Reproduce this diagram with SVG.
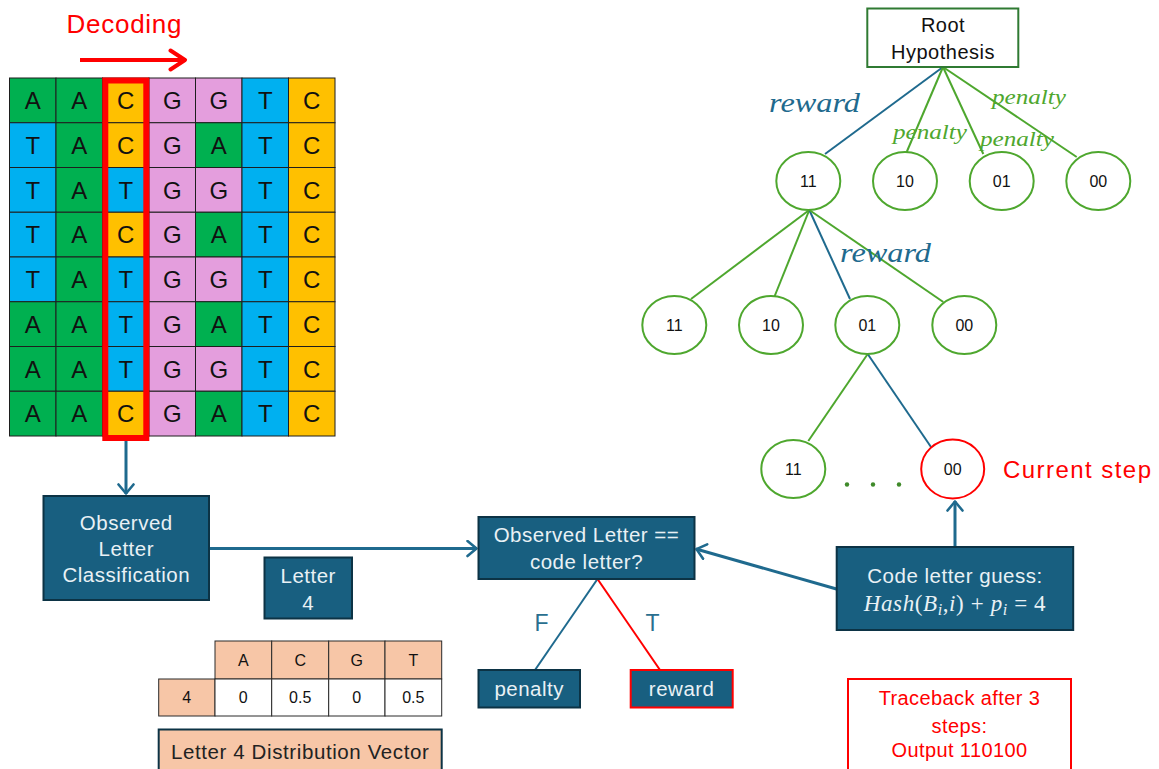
<svg xmlns="http://www.w3.org/2000/svg" width="1159" height="769" viewBox="0 0 1159 769">
  <style>
    .cell { stroke: #1e1e1e; stroke-width: 1; }
    .A { fill: #00B050; }
    .T { fill: #00B0F0; }
    .C { fill: #FFC000; }
    .G { fill: #E49EDD; }
    .base { font-family: "Liberation Sans", Arial, sans-serif; font-size: 24px; fill: #111; text-anchor: middle; }
    .box { fill: #185F80; stroke: #0C3345; stroke-width: 2; }
    .boxtxt { font-family: "Liberation Sans", Arial, sans-serif; font-size: 20.5px; letter-spacing: 0.5px; fill: #E9F1F5; text-anchor: middle; }
    .node { fill: #fff; stroke: #4EA72E; stroke-width: 2; }
    .nodetxt { font-family: "Liberation Sans", Arial, sans-serif; font-size: 16px; fill: #111; text-anchor: middle; }
    .roottxt { font-family: "Liberation Sans", Arial, sans-serif; font-size: 20px; letter-spacing: 0.5px; fill: #111; text-anchor: middle; }
    .g-edge { stroke: #4EA72E; stroke-width: 2; fill: none; }
    .t-edge { stroke: #1F6A8E; stroke-width: 2; fill: none; }
    .t-arrow { stroke: #1F6A8E; stroke-width: 3; fill: none; }
    .peach { fill: #F7C6A7; stroke: #2a2a2a; stroke-width: 1; }
    .white { fill: #fff; stroke: #2a2a2a; stroke-width: 1; }
    .tbl { font-family: "Liberation Sans", Arial, sans-serif; font-size: 16px; fill: #111; text-anchor: middle; }
    .math { font-family: "Liberation Serif", "DejaVu Serif", serif; font-style: italic; }
    .redtxt { font-family: "Liberation Sans", Arial, sans-serif; font-size: 20px; letter-spacing: 0.4px; fill: #FF0000; text-anchor: middle; }
  </style>
  <defs>
    <marker id="ah-teal" viewBox="0 0 12 18" refX="11" refY="9" markerWidth="12" markerHeight="18" markerUnits="userSpaceOnUse" orient="auto">
      <path d="M1.5,1.5 L10.5,9 L1.5,16.5" fill="none" stroke="#1F6A8E" stroke-width="2.6" stroke-linecap="round" stroke-linejoin="round"/>
    </marker>
    <marker id="ah-red" viewBox="0 0 20 24" refX="18" refY="12" markerWidth="20" markerHeight="24" markerUnits="userSpaceOnUse" orient="auto">
      <path d="M2.5,2.5 L17,12 L2.5,21.5" fill="none" stroke="#FF0000" stroke-width="4" stroke-linecap="round" stroke-linejoin="round"/>
    </marker>
  </defs>

  <rect width="1159" height="769" fill="#ffffff"/>

  <!-- decoding direction -->
  <g id="decoding">
    <text x="124" y="33" font-family="Liberation Sans, Arial, sans-serif" font-size="26" fill="#FF0000" text-anchor="middle" textLength="115">Decoding</text>
    <line x1="80" y1="60" x2="186" y2="60" stroke="#FF0000" stroke-width="4" marker-end="url(#ah-red)"/>
  </g>

  <!-- sequence grid: 8 reads x 7 positions -->
  <g id="grid">
    <!-- row 1 -->
    <rect class="cell A" x="9.5" y="78" width="46.5" height="44.75"/>
    <rect class="cell A" x="56" y="78" width="46.5" height="44.75"/>
    <rect class="cell C" x="102.5" y="78" width="46.5" height="44.75"/>
    <rect class="cell G" x="149" y="78" width="46.5" height="44.75"/>
    <rect class="cell G" x="195.5" y="78" width="46.5" height="44.75"/>
    <rect class="cell T" x="242" y="78" width="46.5" height="44.75"/>
    <rect class="cell C" x="288.5" y="78" width="46.5" height="44.75"/>
    <!-- row 2 -->
    <rect class="cell T" x="9.5" y="122.75" width="46.5" height="44.75"/>
    <rect class="cell A" x="56" y="122.75" width="46.5" height="44.75"/>
    <rect class="cell C" x="102.5" y="122.75" width="46.5" height="44.75"/>
    <rect class="cell G" x="149" y="122.75" width="46.5" height="44.75"/>
    <rect class="cell A" x="195.5" y="122.75" width="46.5" height="44.75"/>
    <rect class="cell T" x="242" y="122.75" width="46.5" height="44.75"/>
    <rect class="cell C" x="288.5" y="122.75" width="46.5" height="44.75"/>
    <!-- row 3 -->
    <rect class="cell T" x="9.5" y="167.5" width="46.5" height="44.75"/>
    <rect class="cell A" x="56" y="167.5" width="46.5" height="44.75"/>
    <rect class="cell T" x="102.5" y="167.5" width="46.5" height="44.75"/>
    <rect class="cell G" x="149" y="167.5" width="46.5" height="44.75"/>
    <rect class="cell G" x="195.5" y="167.5" width="46.5" height="44.75"/>
    <rect class="cell T" x="242" y="167.5" width="46.5" height="44.75"/>
    <rect class="cell C" x="288.5" y="167.5" width="46.5" height="44.75"/>
    <!-- row 4 -->
    <rect class="cell T" x="9.5" y="212.25" width="46.5" height="44.75"/>
    <rect class="cell A" x="56" y="212.25" width="46.5" height="44.75"/>
    <rect class="cell C" x="102.5" y="212.25" width="46.5" height="44.75"/>
    <rect class="cell G" x="149" y="212.25" width="46.5" height="44.75"/>
    <rect class="cell A" x="195.5" y="212.25" width="46.5" height="44.75"/>
    <rect class="cell T" x="242" y="212.25" width="46.5" height="44.75"/>
    <rect class="cell C" x="288.5" y="212.25" width="46.5" height="44.75"/>
    <!-- row 5 -->
    <rect class="cell T" x="9.5" y="257" width="46.5" height="44.75"/>
    <rect class="cell A" x="56" y="257" width="46.5" height="44.75"/>
    <rect class="cell T" x="102.5" y="257" width="46.5" height="44.75"/>
    <rect class="cell G" x="149" y="257" width="46.5" height="44.75"/>
    <rect class="cell G" x="195.5" y="257" width="46.5" height="44.75"/>
    <rect class="cell T" x="242" y="257" width="46.5" height="44.75"/>
    <rect class="cell C" x="288.5" y="257" width="46.5" height="44.75"/>
    <!-- row 6 -->
    <rect class="cell A" x="9.5" y="301.75" width="46.5" height="44.75"/>
    <rect class="cell A" x="56" y="301.75" width="46.5" height="44.75"/>
    <rect class="cell T" x="102.5" y="301.75" width="46.5" height="44.75"/>
    <rect class="cell G" x="149" y="301.75" width="46.5" height="44.75"/>
    <rect class="cell A" x="195.5" y="301.75" width="46.5" height="44.75"/>
    <rect class="cell T" x="242" y="301.75" width="46.5" height="44.75"/>
    <rect class="cell C" x="288.5" y="301.75" width="46.5" height="44.75"/>
    <!-- row 7 -->
    <rect class="cell A" x="9.5" y="346.5" width="46.5" height="44.75"/>
    <rect class="cell A" x="56" y="346.5" width="46.5" height="44.75"/>
    <rect class="cell T" x="102.5" y="346.5" width="46.5" height="44.75"/>
    <rect class="cell G" x="149" y="346.5" width="46.5" height="44.75"/>
    <rect class="cell G" x="195.5" y="346.5" width="46.5" height="44.75"/>
    <rect class="cell T" x="242" y="346.5" width="46.5" height="44.75"/>
    <rect class="cell C" x="288.5" y="346.5" width="46.5" height="44.75"/>
    <!-- row 8 -->
    <rect class="cell A" x="9.5" y="391.25" width="46.5" height="44.75"/>
    <rect class="cell A" x="56" y="391.25" width="46.5" height="44.75"/>
    <rect class="cell C" x="102.5" y="391.25" width="46.5" height="44.75"/>
    <rect class="cell G" x="149" y="391.25" width="46.5" height="44.75"/>
    <rect class="cell A" x="195.5" y="391.25" width="46.5" height="44.75"/>
    <rect class="cell T" x="242" y="391.25" width="46.5" height="44.75"/>
    <rect class="cell C" x="288.5" y="391.25" width="46.5" height="44.75"/>

    <g class="base">
      <text y="109"><tspan x="32.75">A</tspan><tspan x="79.25">A</tspan><tspan x="125.75">C</tspan><tspan x="172.25">G</tspan><tspan x="218.75">G</tspan><tspan x="265.25">T</tspan><tspan x="311.75">C</tspan></text>
      <text y="153.7"><tspan x="32.75">T</tspan><tspan x="79.25">A</tspan><tspan x="125.75">C</tspan><tspan x="172.25">G</tspan><tspan x="218.75">A</tspan><tspan x="265.25">T</tspan><tspan x="311.75">C</tspan></text>
      <text y="198.5"><tspan x="32.75">T</tspan><tspan x="79.25">A</tspan><tspan x="125.75">T</tspan><tspan x="172.25">G</tspan><tspan x="218.75">G</tspan><tspan x="265.25">T</tspan><tspan x="311.75">C</tspan></text>
      <text y="243.2"><tspan x="32.75">T</tspan><tspan x="79.25">A</tspan><tspan x="125.75">C</tspan><tspan x="172.25">G</tspan><tspan x="218.75">A</tspan><tspan x="265.25">T</tspan><tspan x="311.75">C</tspan></text>
      <text y="288"><tspan x="32.75">T</tspan><tspan x="79.25">A</tspan><tspan x="125.75">T</tspan><tspan x="172.25">G</tspan><tspan x="218.75">G</tspan><tspan x="265.25">T</tspan><tspan x="311.75">C</tspan></text>
      <text y="332.7"><tspan x="32.75">A</tspan><tspan x="79.25">A</tspan><tspan x="125.75">T</tspan><tspan x="172.25">G</tspan><tspan x="218.75">A</tspan><tspan x="265.25">T</tspan><tspan x="311.75">C</tspan></text>
      <text y="377.5"><tspan x="32.75">A</tspan><tspan x="79.25">A</tspan><tspan x="125.75">T</tspan><tspan x="172.25">G</tspan><tspan x="218.75">G</tspan><tspan x="265.25">T</tspan><tspan x="311.75">C</tspan></text>
      <text y="422.2"><tspan x="32.75">A</tspan><tspan x="79.25">A</tspan><tspan x="125.75">C</tspan><tspan x="172.25">G</tspan><tspan x="218.75">A</tspan><tspan x="265.25">T</tspan><tspan x="311.75">C</tspan></text>
    </g>
    <!-- current column highlight -->
    <rect x="105.3" y="80.5" width="41" height="357.5" fill="none" stroke="#FF0000" stroke-width="6"/>
  </g>

  <!-- connectors -->
  <g id="connectors">
    <line class="t-arrow" x1="126" y1="441" x2="126" y2="494" marker-end="url(#ah-teal)"/>
    <line class="t-arrow" x1="209" y1="548.5" x2="477" y2="548.5" marker-end="url(#ah-teal)"/>
    <line class="t-arrow" x1="836.5" y1="589" x2="696" y2="549" marker-end="url(#ah-teal)"/>
    <line class="t-arrow" x1="955" y1="546" x2="955" y2="501" marker-end="url(#ah-teal)"/>
    <line class="t-edge" x1="597.5" y1="579" x2="535" y2="670"/>
    <line x1="597.5" y1="579" x2="660" y2="670" stroke="#FF0000" stroke-width="2"/>

    <!-- tree edges: root -> level 1 -->
    <line class="t-edge" x1="943" y1="67" x2="825" y2="154"/>
    <line class="g-edge" x1="943" y1="67" x2="906.7" y2="152"/>
    <line class="g-edge" x1="943" y1="67" x2="983.3" y2="154"/>
    <line class="g-edge" x1="943" y1="67" x2="1076.7" y2="157"/>
    <!-- level 1 (11) -> level 2 -->
    <line class="g-edge" x1="809.3" y1="210" x2="691" y2="299"/>
    <line class="g-edge" x1="809.3" y1="210" x2="774.3" y2="297"/>
    <line class="t-edge" x1="809.3" y1="210" x2="850" y2="299"/>
    <line class="g-edge" x1="809.3" y1="210" x2="943.3" y2="302"/>
    <!-- level 2 (01) -> level 3 -->
    <line class="g-edge" x1="867.7" y1="354" x2="808.3" y2="441"/>
    <line class="t-edge" x1="867.7" y1="354" x2="931" y2="447"/>
  </g>

  <!-- edge labels -->
  <g id="edge-labels" class="math">
    <text x="769" y="112" font-size="28" fill="#1F6A8E" textLength="91" lengthAdjust="spacingAndGlyphs">reward</text>
    <text x="840" y="262" font-size="28" fill="#1F6A8E" textLength="91" lengthAdjust="spacingAndGlyphs">reward</text>
    <text x="992" y="104" font-size="21" fill="#4EA72E" textLength="74" lengthAdjust="spacingAndGlyphs">penalty</text>
    <text x="893" y="139" font-size="21" fill="#4EA72E" textLength="74" lengthAdjust="spacingAndGlyphs">penalty</text>
    <text x="980" y="146" font-size="21" fill="#4EA72E" textLength="74" lengthAdjust="spacingAndGlyphs">penalty</text>
    <text x="541.5" y="631" font-family="Liberation Sans, Arial, sans-serif" font-style="normal" font-size="23" fill="#2A6F8F" text-anchor="middle">F</text>
    <text x="652.5" y="631" font-family="Liberation Sans, Arial, sans-serif" font-style="normal" font-size="23" fill="#2A6F8F" text-anchor="middle">T</text>
  </g>

  <!-- hypothesis tree -->
  <g id="root">
    <rect x="867.3" y="8.5" width="151" height="58.5" fill="#fff" stroke="#2F7A32" stroke-width="2"/>
    <text class="roottxt" x="943" y="32">Root</text>
    <text class="roottxt" x="943" y="58.5">Hypothesis</text>
  </g>
  <g id="n1-11"><ellipse class="node" cx="808.3" cy="181" rx="32" ry="29"/><text class="nodetxt" x="808.3" y="186.8">11</text></g>
  <g id="n1-10"><ellipse class="node" cx="905" cy="181" rx="32" ry="29"/><text class="nodetxt" x="905" y="186.8">10</text></g>
  <g id="n1-01"><ellipse class="node" cx="1001.7" cy="181" rx="32" ry="29"/><text class="nodetxt" x="1001.7" y="186.8">01</text></g>
  <g id="n1-00"><ellipse class="node" cx="1098.3" cy="181" rx="32" ry="29"/><text class="nodetxt" x="1098.3" y="186.8">00</text></g>

  <g id="n2-11"><ellipse class="node" cx="674.3" cy="325" rx="32" ry="29"/><text class="nodetxt" x="674.3" y="330.8">11</text></g>
  <g id="n2-10"><ellipse class="node" cx="771" cy="325" rx="32" ry="29"/><text class="nodetxt" x="771" y="330.8">10</text></g>
  <g id="n2-01"><ellipse class="node" cx="867.3" cy="325" rx="32" ry="29"/><text class="nodetxt" x="867.3" y="330.8">01</text></g>
  <g id="n2-00"><ellipse class="node" cx="964.3" cy="325" rx="32" ry="29"/><text class="nodetxt" x="964.3" y="330.8">00</text></g>

  <g id="n3-11"><ellipse class="node" cx="793.3" cy="469" rx="32" ry="29"/><text class="nodetxt" x="793.3" y="474.8">11</text></g>
  <g id="ellipsis" fill="#3F8A2A">
    <circle cx="847" cy="484.5" r="2.2"/>
    <circle cx="873" cy="484.5" r="2.2"/>
    <circle cx="899" cy="484.5" r="2.2"/>
  </g>
  <g id="n3-00"><ellipse cx="952.7" cy="469" rx="31.5" ry="29.5" fill="#fff" stroke="#FF0000" stroke-width="2"/><text class="nodetxt" x="952.7" y="474.8">00</text></g>
  <g id="current-step">
    <text x="1003" y="477.5" font-family="Liberation Sans, Arial, sans-serif" font-size="24" fill="#FF0000" textLength="148">Current step</text>
  </g>

  <!-- process boxes -->
  <g id="observed-classification">
    <rect class="box" x="43.5" y="496" width="165.5" height="104"/>
    <text class="boxtxt" x="126.3" y="529.5">Observed</text>
    <text class="boxtxt" x="126.3" y="556">Letter</text>
    <text class="boxtxt" x="126.3" y="582">Classification</text>
  </g>
  <g id="letter-4">
    <rect class="box" x="264.5" y="557.5" width="87.5" height="61"/>
    <text class="boxtxt" x="308.2" y="583">Letter</text>
    <text class="boxtxt" x="308.2" y="609.5">4</text>
  </g>
  <g id="distribution-table">
    <rect class="peach" x="215" y="641" width="56.7" height="38"/>
    <rect class="peach" x="271.7" y="641" width="57" height="38"/>
    <rect class="peach" x="328.7" y="641" width="56.3" height="38"/>
    <rect class="peach" x="385" y="641" width="56.7" height="38"/>
    <rect class="peach" x="158.7" y="679" width="56.3" height="37"/>
    <rect class="white" x="215" y="679" width="56.7" height="37"/>
    <rect class="white" x="271.7" y="679" width="57" height="37"/>
    <rect class="white" x="328.7" y="679" width="56.3" height="37"/>
    <rect class="white" x="385" y="679" width="56.7" height="37"/>
    <text class="tbl" x="243.3" y="666">A</text>
    <text class="tbl" x="300.2" y="666">C</text>
    <text class="tbl" x="356.8" y="666">G</text>
    <text class="tbl" x="413.3" y="666">T</text>
    <text class="tbl" x="186.8" y="703">4</text>
    <text class="tbl" x="243.3" y="703">0</text>
    <text class="tbl" x="300.2" y="703">0.5</text>
    <text class="tbl" x="356.8" y="703">0</text>
    <text class="tbl" x="413.3" y="703">0.5</text>
  </g>
  <g id="distribution-vector">
    <rect x="158.7" y="729.5" width="283" height="42" fill="#F7C6A7" stroke="#0C3345" stroke-width="2"/>
    <text x="300.2" y="758.5" font-family="Liberation Sans, Arial, sans-serif" font-size="20.5" letter-spacing="0.6" fill="#222" text-anchor="middle">Letter 4 Distribution Vector</text>
  </g>
  <g id="comparison">
    <rect class="box" x="478.5" y="517" width="216" height="62"/>
    <text class="boxtxt" x="586.5" y="541.5">Observed Letter ==</text>
    <text class="boxtxt" x="586.5" y="569">code letter?</text>
  </g>
  <g id="penalty">
    <rect class="box" x="478.5" y="670" width="101.5" height="37.5"/>
    <text class="boxtxt" x="529.2" y="696">penalty</text>
  </g>
  <g id="reward">
    <rect x="630.7" y="670" width="102" height="37.5" fill="#185F80" stroke="#FF0000" stroke-width="2"/>
    <text class="boxtxt" x="681.7" y="696">reward</text>
  </g>
  <g id="code-letter-guess">
    <rect class="box" x="836.7" y="547" width="236.5" height="83"/>
    <text class="boxtxt" x="955" y="583">Code letter guess:</text>
    <text x="955" y="611" font-family="Liberation Serif, DejaVu Serif, serif" font-size="23" letter-spacing="0.6" fill="#E9F1F5" text-anchor="middle"><tspan font-style="italic">Hash</tspan>(<tspan font-style="italic">B</tspan><tspan font-style="italic" font-size="16" dy="4">i</tspan><tspan dy="-4">,</tspan><tspan font-style="italic">i</tspan>) + <tspan font-style="italic">p</tspan><tspan font-style="italic" font-size="16" dy="4">i</tspan><tspan dy="-4"> = 4</tspan></text>
  </g>
  <g id="traceback">
    <rect x="848" y="679" width="223" height="95" fill="#fff" stroke="#FF0000" stroke-width="2"/>
    <text class="redtxt" x="959.5" y="705">Traceback after 3</text>
    <text class="redtxt" x="959.5" y="732.5">steps:</text>
    <text class="redtxt" x="959.5" y="757">Output 110100</text>
  </g>
</svg>
